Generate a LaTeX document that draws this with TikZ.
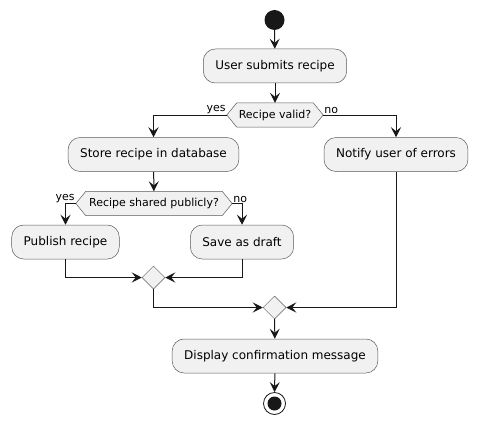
\documentclass[tikz,border=0pt]{standalone}
\usepackage{fontspec}
\setmainfont{DejaVu Sans}
\usetikzlibrary{arrows.meta,shapes.geometric}
\pgfdeclarelayer{background}
\pgfsetlayers{background,main}
\definecolor{boxfill}{HTML}{F1F1F1}
\definecolor{boxline}{HTML}{5A5A5A}
\definecolor{ink}{HTML}{181818}

\begin{document}
\begin{tikzpicture}[x=1pt,y=-1pt,
    action/.style={draw=boxline, fill=boxfill, line width=0.5pt, rounded corners=12pt,
      minimum height=34, inner xsep=12, font=\fontsize{12}{14}\selectfont},
    choice/.style={minimum height=24, inner sep=0, font=\fontsize{11}{13}\selectfont},
    hexa/.style={draw=boxline, fill=boxfill, line width=0.5pt},
    merge/.style={diamond, draw=boxline, fill=boxfill, line width=0.5pt,
      minimum width=23, minimum height=23, inner sep=0},
    lbl/.style={inner sep=1, font=\fontsize{11}{13}\selectfont},
    flow/.style={draw=ink, line width=1pt, -{Stealth[length=10pt,width=10pt,inset=4pt]}}]
    \useasboundingbox (0,0) rectangle (478,425);
    %% Draw the nodes
    \node[circle, fill=ink, minimum size=20, inner sep=0] (start) at (274.5,20) {};
    \node[action] (submit) at (275,66) {User submits recipe};
    \node[choice, minimum width=96] (valid) at (275,115) {Recipe valid?};
    \node[action] (store) at (153.5,154.5) {Store recipe in database};
    \node[action] (notify) at (396,154.5) {Notify user of errors};
    \node[choice, minimum width=156] (shared) at (154,203.5) {Recipe shared publicly?};
    \node[action] (publish) at (65.5,242) {Publish recipe};
    \node[action] (draft) at (242,242) {Save as draft};
    \node[merge] (join) at (153.5,277.5) {};
    \node[merge] (joinall) at (274.5,307.5) {};
    \node[action] (confirm) at (275,356) {Display confirmation message};
    \node[circle, draw=ink, fill=white, line width=0.8pt, minimum size=22, inner sep=0] (stop) at (274.5,403.5) {};
    \node[circle, fill=ink, minimum size=14, inner sep=0] at (stop) {};
    %% Draw the decision shapes
    \begin{pgfonlayer}{background}
      \draw[hexa] (valid.west) -- ([xshift=10]valid.north west) -- ([xshift=-10]valid.north east)
        -- (valid.east) -- ([xshift=-10]valid.south east) -- ([xshift=10]valid.south west) -- cycle;
      \draw[hexa] (shared.west) -- ([xshift=10]shared.north west) -- ([xshift=-10]shared.north east)
        -- (shared.east) -- ([xshift=-10]shared.south east) -- ([xshift=10]shared.south west) -- cycle;
    \end{pgfonlayer}
    %% Draw the branch labels
    \node[lbl, anchor=south east] (validyes) at (valid.west) {yes};
    \node[lbl, anchor=south west] (validno) at (valid.east) {no};
    \node[lbl, anchor=south east] (sharedyes) at (shared.west) {yes};
    \node[lbl, anchor=south west] (sharedno) at (shared.east) {no};
    %% Draw the edges
    \begin{scope}[every path/.style={flow}]
      \draw (start) -- (submit);
      \draw (submit) -- (valid);
      \draw (valid.west) -| (store.north);
      \draw (valid.east) -| (notify.north);
      \draw (store) -- (shared);
      \draw (shared.west) -| (publish.north);
      \draw (shared.east) -| (draft.north);
      \draw (publish.south) |- (join.west);
      \draw (draft.south) |- (join.east);
      \draw (join.south) |- (joinall.west);
      \draw (notify.south) |- (joinall.east);
      \draw (joinall) -- (confirm);
      \draw (confirm) -- (stop);
    \end{scope}
  \end{tikzpicture}
\end{document}
